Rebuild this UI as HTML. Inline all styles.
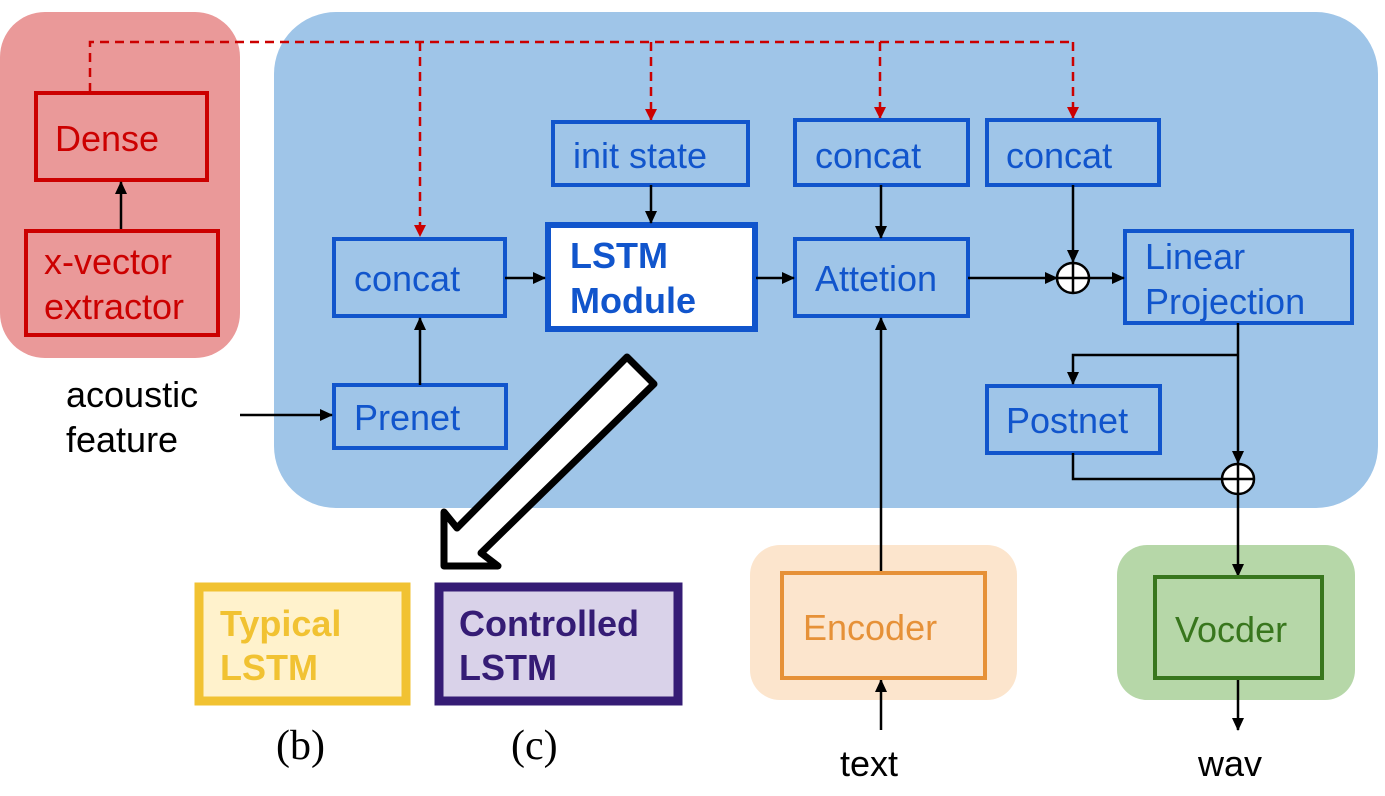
<!DOCTYPE html>
<html><head><style>
html,body{margin:0;padding:0;background:#fff;}
svg{display:block;}
text{font-family:"Liberation Sans",sans-serif;}
</style></head><body>
<svg width="1385" height="796" viewBox="0 0 1385 796" xmlns="http://www.w3.org/2000/svg">
<defs>
<marker id="ab" markerWidth="13" markerHeight="12" refX="12" refY="6" orient="auto" markerUnits="userSpaceOnUse"><path d="M0,0 L13,6 L0,12 z" fill="#000"/></marker>
<marker id="ar" markerWidth="12" markerHeight="12" refX="11" refY="6" orient="auto" markerUnits="userSpaceOnUse"><path d="M0,0 L12,6 L0,12 z" fill="#cc0000"/></marker>
</defs>
<rect x="0" y="12" width="240" height="346" rx="45" fill="#ea9999"/>
<rect x="274" y="12" width="1104" height="496" rx="62" fill="#9fc5e8"/>
<rect x="750" y="545" width="267" height="155" rx="30" fill="#fce5cd"/>
<rect x="1117" y="545" width="238" height="155" rx="30" fill="#b6d7a8"/>

<g stroke="#cc0000" stroke-width="2.5" fill="none" stroke-dasharray="9,6">
<path d="M90,92 V42 H1073"/>
<path d="M420,42 V236" marker-end="url(#ar)"/>
<path d="M651,42 V120" marker-end="url(#ar)"/>
<path d="M880,42 V118" marker-end="url(#ar)"/>
<path d="M1073,42 V118" marker-end="url(#ar)"/>
</g>

<g fill="none" stroke="#cc0000" stroke-width="4">
<rect x="36" y="93" width="171" height="87"/>
<rect x="26" y="231" width="192" height="104"/>
</g>
<g fill="#cc0000" font-size="36">
<text x="55" y="151">Dense</text>
<text x="44" y="274">x-vector</text>
<text x="44" y="319">extractor</text>
</g>

<g fill="none" stroke="#1155cc" stroke-width="4">
<rect x="334" y="239" width="171" height="77"/>
<rect x="334" y="385" width="172" height="63"/>
<rect x="553" y="122" width="195" height="63"/>
<rect x="795" y="120" width="173" height="65"/>
<rect x="987" y="120" width="172" height="65"/>
<rect x="795" y="239" width="173" height="77"/>
<rect x="1125" y="231" width="227" height="92"/>
<rect x="987" y="386" width="173" height="67"/>
</g>
<rect x="548" y="225" width="207" height="104" fill="#fff" stroke="#1155cc" stroke-width="6"/>
<g fill="#1155cc" font-size="36">
<text x="354" y="291">concat</text>
<text x="354" y="430">Prenet</text>
<text x="573" y="168">init state</text>
<text x="815" y="168">concat</text>
<text x="1006" y="168">concat</text>
<text x="815" y="291">Attetion</text>
<text x="1145" y="269">Linear</text>
<text x="1145" y="314">Projection</text>
<text x="1006" y="433">Postnet</text>
<text x="570" y="268" font-weight="bold">LSTM</text>
<text x="570" y="313" font-weight="bold">Module</text>
</g>

<g stroke="#000" stroke-width="2.5" fill="none">
<path d="M121,229 V182" marker-end="url(#ab)"/>
<path d="M505,278 H545" marker-end="url(#ab)"/>
<path d="M756,278 H794" marker-end="url(#ab)"/>
<path d="M968,278 H1057" marker-end="url(#ab)"/>
<path d="M1089,278 H1124" marker-end="url(#ab)"/>
<path d="M651,185 V223" marker-end="url(#ab)"/>
<path d="M881,185 V238" marker-end="url(#ab)"/>
<path d="M1073,185 V262" marker-end="url(#ab)"/>
<path d="M420,385 V318" marker-end="url(#ab)"/>
<path d="M881,573 V318" marker-end="url(#ab)"/>
<path d="M881,730 V680" marker-end="url(#ab)"/>
<path d="M240,415 H332" marker-end="url(#ab)"/>
<path d="M1238,323 V463" marker-end="url(#ab)"/>
<path d="M1238,355 H1073 V384" marker-end="url(#ab)"/>
<path d="M1073,453 V479 H1222"/>
<path d="M1238,495 V576" marker-end="url(#ab)"/>
<path d="M1238,678 V730" marker-end="url(#ab)"/>
</g>
<g stroke="#000" stroke-width="2.5" fill="#fff">
<ellipse cx="1073" cy="278" rx="16" ry="15"/>
<ellipse cx="1238" cy="479" rx="16" ry="15"/>
</g>
<g stroke="#000" stroke-width="2.5">
<path d="M1057,278 H1089 M1073,263 V293"/>
<path d="M1222,479 H1254 M1238,464 V494"/>
</g>

<polygon points="627,357 654,384 481,553 498,566 444,566 444,512 457,528" fill="#fff" stroke="#000" stroke-width="7" stroke-linejoin="round"/>

<rect x="782" y="573" width="203" height="105" fill="none" stroke="#e69138" stroke-width="4"/>
<text x="803" y="640" font-size="36" fill="#e69138">Encoder</text>
<rect x="1155" y="577" width="167" height="101" fill="none" stroke="#38761d" stroke-width="4"/>
<text x="1175" y="642" font-size="36" fill="#38761d">Vocder</text>

<rect x="199" y="587" width="207" height="114" fill="#fff2cc" stroke="#f1c232" stroke-width="9"/>
<text x="220" y="636" font-size="36" font-weight="bold" fill="#f1c232">Typical</text>
<text x="220" y="680" font-size="36" font-weight="bold" fill="#f1c232">LSTM</text>
<rect x="439" y="587" width="239" height="114" fill="#d9d2e9" stroke="#351c75" stroke-width="9"/>
<text x="459" y="636" font-size="36" font-weight="bold" fill="#351c75">Controlled</text>
<text x="459" y="680" font-size="36" font-weight="bold" fill="#351c75">LSTM</text>

<g font-size="36" fill="#000">
<text x="66" y="407">acoustic</text>
<text x="66" y="452">feature</text>
<text x="840" y="776">text</text>
<text x="1198" y="776">wav</text>
</g>
<text x="276" y="759" font-size="42" style="font-family:'Liberation Serif',serif">(b)</text>
<text x="511" y="759" font-size="42" style="font-family:'Liberation Serif',serif">(c)</text>
</svg>
</body></html>
